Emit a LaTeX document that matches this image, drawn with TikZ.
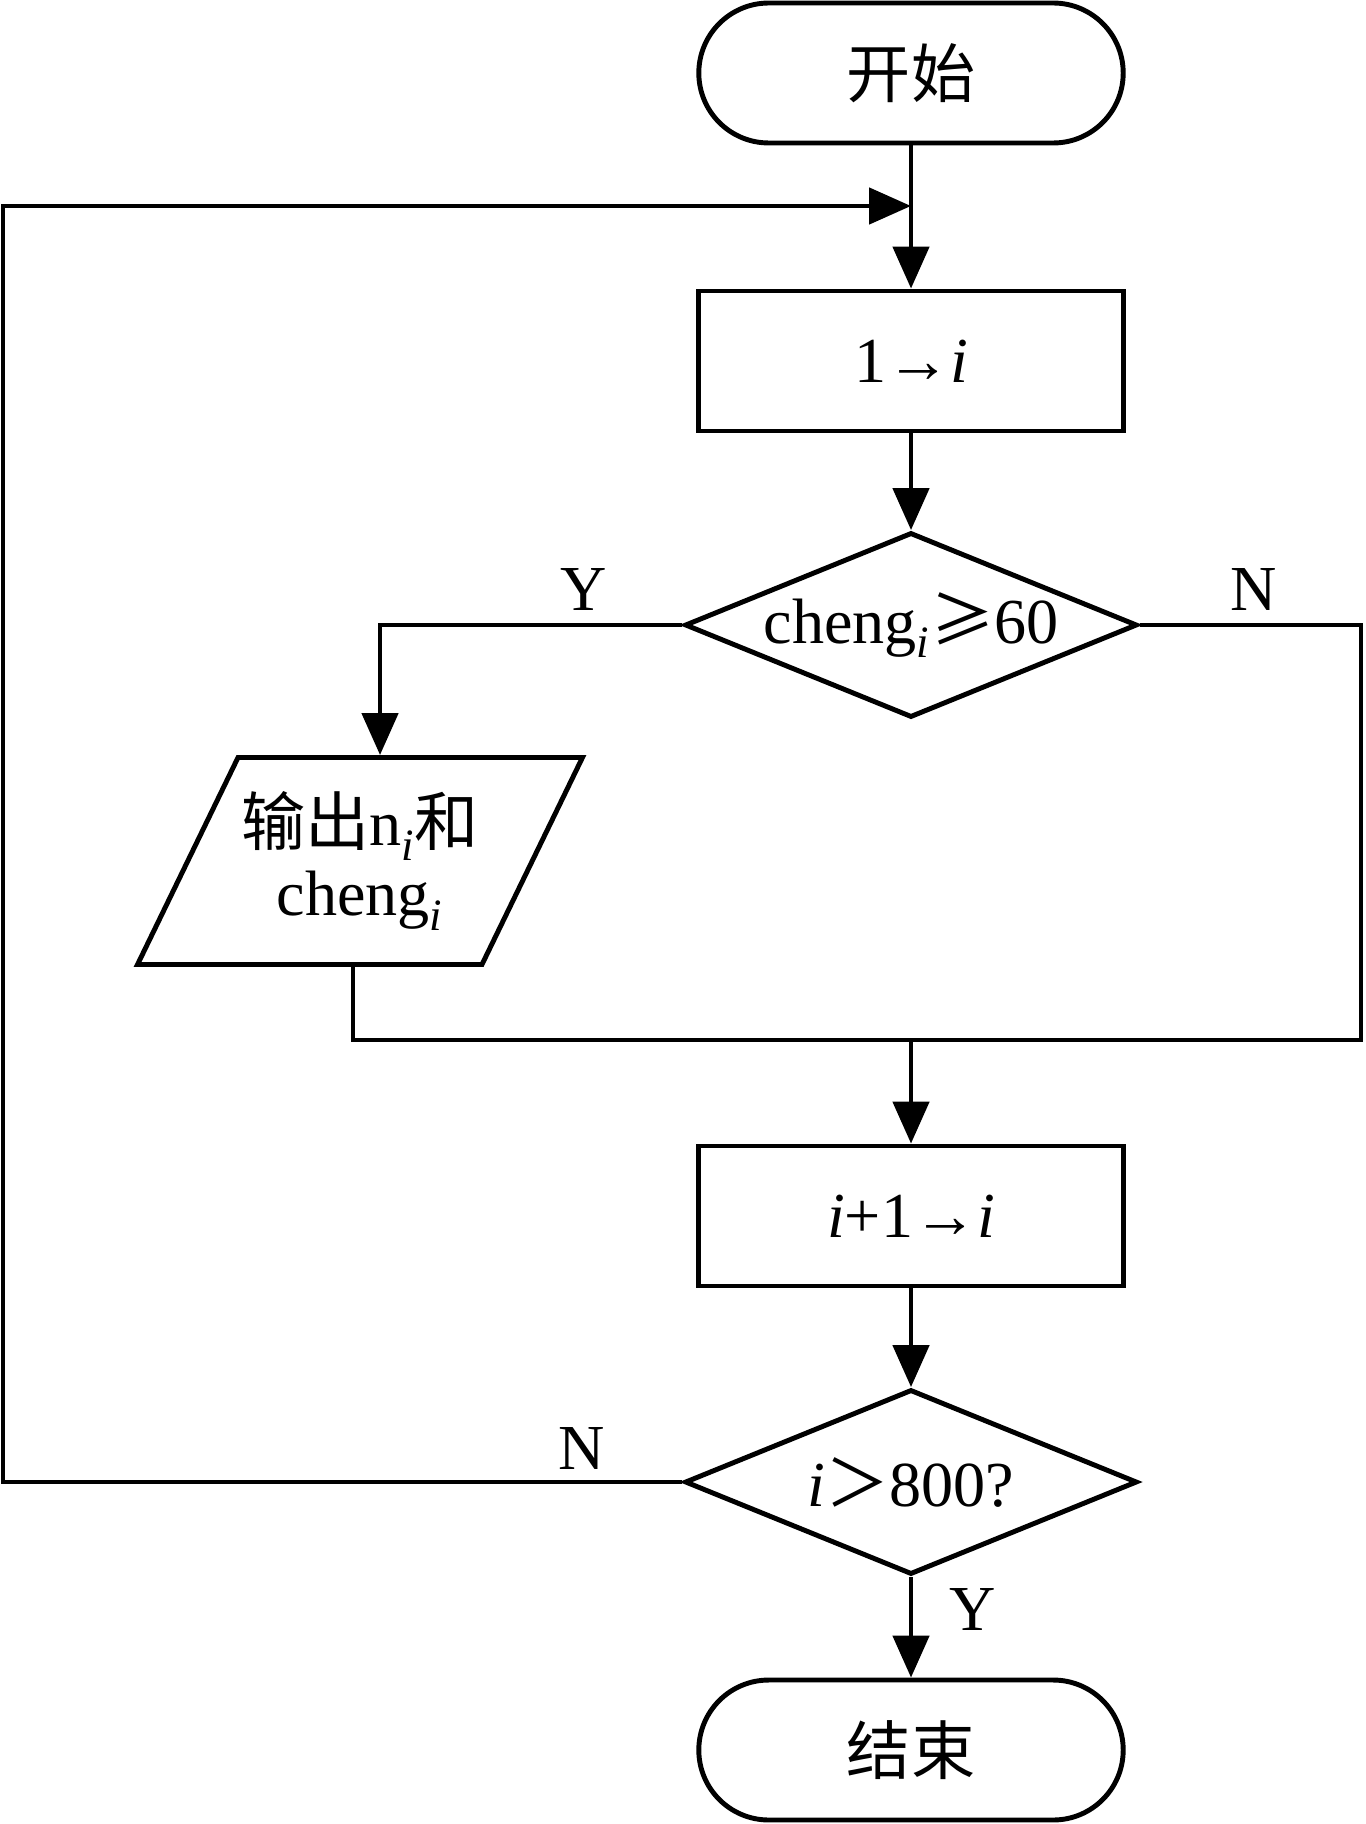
\documentclass[tikz,border=0pt]{standalone}
\usepackage{fontspec}
\setmainfont{Liberation Serif}
\newfontfamily\cjk{Noto Sans CJK SC}
\usetikzlibrary{arrows.meta,shapes.geometric}

\begin{document}
\begin{tikzpicture}[
    x=0.02cm, y=-0.02cm,
    font=\fontsize{36.5}{40}\selectfont,
    line width=2.8pt,
    arr/.style={-{Triangle[length=0.84cm, width=0.72cm]}},
    terminal/.style={draw, rounded corners=1.4cm, minimum width=8.49cm,
        minimum height=2.8cm, inner sep=0pt},
    process/.style={draw, minimum width=8.49cm, minimum height=2.8cm,
        inner sep=0pt},
    decision/.style={draw, diamond, aspect=2.44, minimum width=9.05cm,
        minimum height=3.7cm, inner sep=0pt, label={center:#1}},
    io/.style={draw, trapezium, trapezium left angle=64,
        trapezium right angle=116, trapezium stretches body=true,
        minimum width=8.9cm, minimum height=4.14cm, align=center,
        inner xsep=0pt, inner ysep=0.67cm},
    lbl/.style={inner sep=0pt},
]
\useasboundingbox (0,0) rectangle (1365,1824);

% =====================================================
% Main column
% =====================================================
\node[terminal] (start) at (911,73) {{\cjk 开始}};

\node[process] (init) at (911,361) {1→\textit{i}};

\node[decision={cheng\textsubscript{\textit{i}}{\cjk ≥}60}]
    (cheng) at (911,625) {};

\node[io] (out) at (360,861)
    {{\cjk 输出}n\textsubscript{\textit{i}}{\cjk 和}\\
     cheng\textsubscript{\textit{i}}};

\node[process] (inc) at (911,1216) {\textit{i}+1→\textit{i}};

\node[decision={\textit{i}{\cjk ＞}800?}] (chk) at (911,1482) {};

\node[terminal] (stop) at (911,1750) {{\cjk 结束}};

% --- helper points for the bends ---
\coordinate (join) at (911,206);
\coordinate (loop) at (3,206);
\coordinate (merge) at (911,1040);
\coordinate (rgt) at (1361,1040);

% =====================================================
% Connectors
% =====================================================
\draw[arr] (start) -- (init);
\draw[arr] (init) -- (cheng);

% Y branch -> output
\draw[arr] (cheng.west) -| ([xshift=0.4cm]out.north);
\node[lbl] (ylbl) at (584,590) {Y};

% N branch round the right side
\draw (cheng.east) -| (rgt) -- (merge);
\node[lbl] (nlbl) at (1254,590) {N};

% output back to the merge line
\draw ([xshift=-0.14cm]out.south) |- (merge);
\draw[arr] (merge) -- (inc);

\draw[arr] (inc) -- (chk);

% loop back when i <= 800
\draw[arr] (chk.west) -| (loop) -- (join);
\node[lbl] (nloop) at (582,1448) {N};

% done
\draw[arr] (chk) -- (stop);
\node[lbl] (yend) at (973,1609) {Y};

\end{tikzpicture}
\end{document}
